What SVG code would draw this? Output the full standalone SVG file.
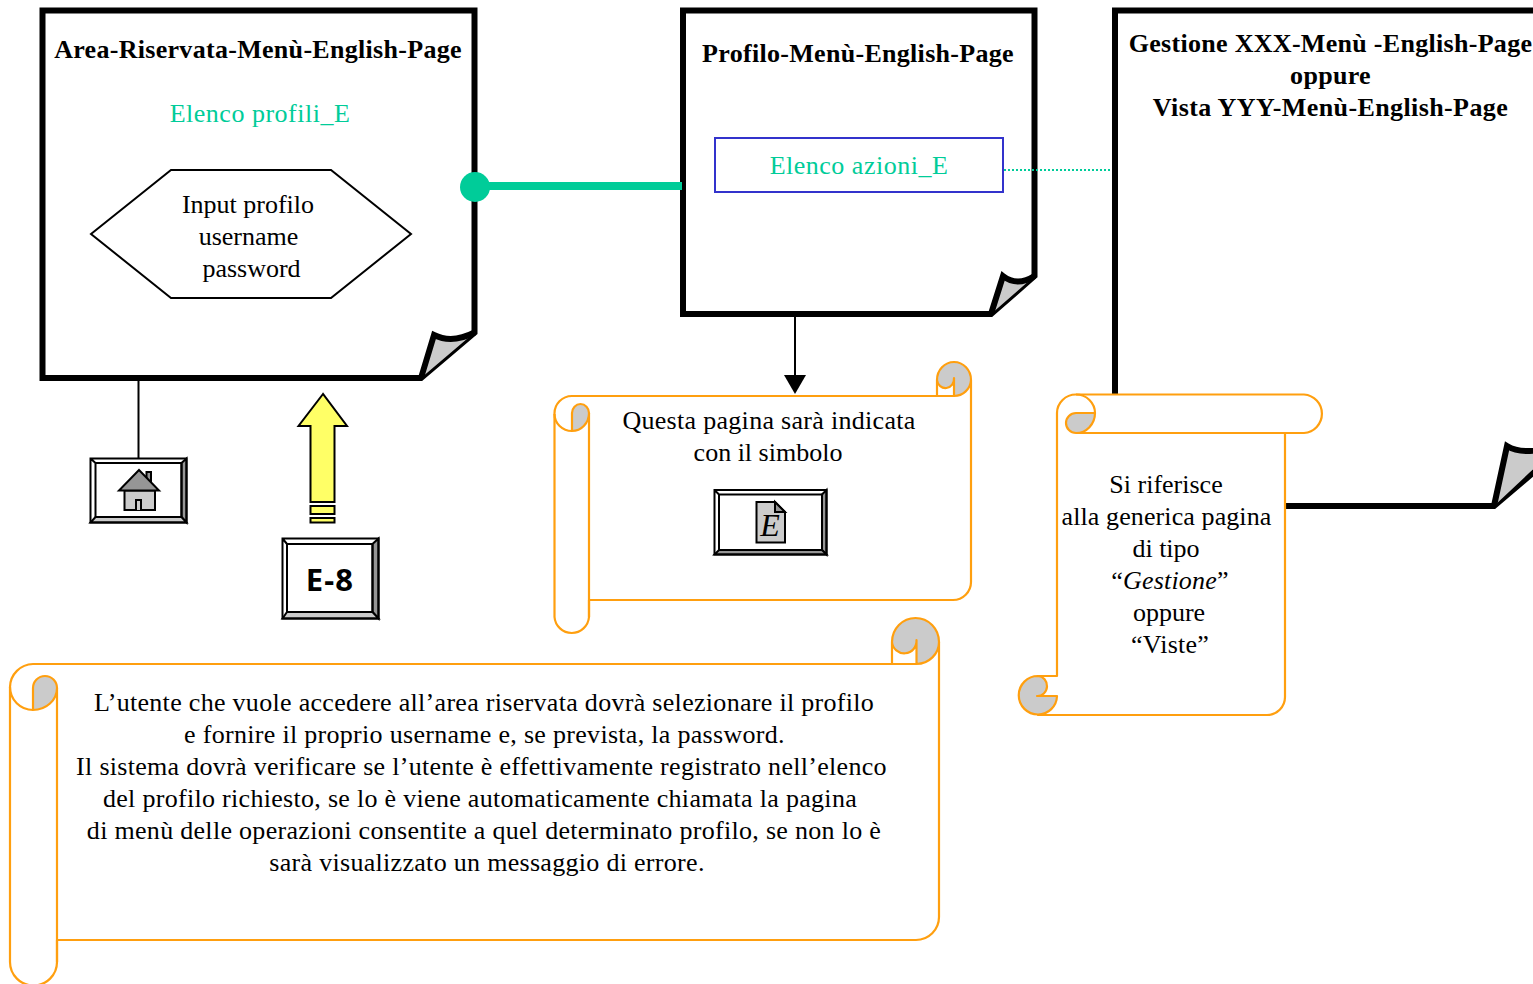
<svg xmlns="http://www.w3.org/2000/svg" width="1533" height="984" viewBox="0 0 1533 984">
<defs><style>
text{font-family:"Liberation Serif","Times New Roman",serif;font-size:26px;fill:#000;text-anchor:middle}
.t{font-weight:700;letter-spacing:.3px}
.g{fill:#00cc99;letter-spacing:.5px}
.l{letter-spacing:.3px}
.p{fill:#fff;stroke:#000;stroke-width:6;stroke-miterlimit:8}
.f{fill:#cbcbcb;stroke:none}
.e{fill:none;stroke:#000;stroke-width:6;stroke-linejoin:miter;stroke-miterlimit:10}
.s{fill:#fff;stroke:#ff9f0f;stroke-width:2.2;stroke-linejoin:round}
.n{fill:none;stroke:#ff9f0f;stroke-width:2.2;stroke-linejoin:round}
.c{fill:#cbcbcb;stroke:#ff9f0f;stroke-width:2.2;stroke-linejoin:round}
.k{stroke:#000;stroke-width:2;stroke-linejoin:miter}
.i{stroke:#000;stroke-width:2}
</style></defs>

<g id="page-area-riservata">
<path class="p" d="M42.500,10.500H474.500V332.500L421,378H42.500Z"/>
<path class="f" d="M421,378L434,335Q452,344 474.500,332.500Z"/>
<path class="e" d="M421,378L434,335Q452,344 474.500,332.500"/>
<text class="t" x="258" y="58">Area-Riservata-Menù-English-Page</text>
<text class="g" x="260" y="122">Elenco profili_E</text>
</g>
<g id="input-hexagon">
<path class="k" fill="#fff" d="M91,234L171,170H331L411,234L331,298H171Z"/>
<text x="248" y="213">Input profilo</text>
<text x="248.500" y="245">username</text>
<text x="251.500" y="277">password</text>
</g>

<g id="page-profilo">
<path class="p" d="M683,10.500H1034.500V276L991,314H683Z"/>
<path class="f" d="M991,314L1003,276Q1017,287 1034.500,276Z"/>
<path class="e" d="M991,314L1003,276Q1017,287 1034.500,276"/>
<text class="t" x="858" y="62">Profilo-Menù-English-Page</text>
</g>
<g id="elenco-azioni">
<rect x="715" y="138" width="288" height="54" fill="#fff" stroke="#3333cc" stroke-width="2"/>
<text class="g" x="859" y="174">Elenco azioni_E</text>
</g>

<g id="page-gestione">
<path class="p" d="M1115,10.500H1560V450L1494,506H1115Z"/>
<path class="f" d="M1494,506L1507,446Q1525,457 1560,444Z"/>
<path class="e" d="M1494,506L1507,446Q1525,457 1560,444"/>
<text class="t" x="1330.500" y="52">Gestione XXX-Menù -English-Page</text>
<text class="t" x="1330.500" y="84">oppure</text>
<text class="t" x="1330.500" y="116" style="letter-spacing:.4px">Vista YYY-Menù-English-Page</text>
</g>

<g id="connectors">
<path d="M475,186H682" fill="none" stroke="#00cc99" stroke-width="8"/>
<circle cx="475" cy="187" r="15" fill="#00cc99"/>
<path d="M1004,170H1112" fill="none" stroke="#00cc99" stroke-width="2" stroke-dasharray="2 2"/>
<path class="i" d="M138.500,380V458"/>
<path class="i" d="M795,316V376"/>
<path d="M784,375H806L795,394Z" fill="#000"/>
</g>

<g id="home-button">
<rect x="90.500" y="458.500" width="96" height="64" fill="#fff"/>
<path class="k" fill="#969696" d="M186.500,458.500L181.500,463V517L186.500,522.500Z"/>
<path class="k" fill="#cbcbcb" d="M90.500,522.500L95.500,517H181.500L186.500,522.500Z"/>
<path class="k" fill="none" d="M90.500,458.500H186.500V522.500H90.500ZM95.500,463H181.500V517H95.500ZM90.500,458.500L95.500,463"/>
<path class="k" fill="#969696" d="M146.500,482V472H151V486Z"/>
<path class="k" fill="#cbcbcb" d="M124.500,490.500H155V510H124.500Z"/>
<path class="k" fill="#969696" d="M139,470L119,490.500H159Z"/>
<path class="k" fill="#cbcbcb" d="M136,510V500H141V510"/>
</g>

<g id="yellow-arrow">
<path class="k" fill="#ffff66" d="M323,394L298.500,426H310.500V502H334.500V426H347Z"/>
<rect class="k" fill="#ffff66" x="310.500" y="506" width="24" height="8"/>
<rect class="k" fill="#ffff66" x="310.500" y="518" width="24" height="4.500"/>
</g>

<g id="e8-button">
<rect x="282.500" y="538.500" width="96" height="80" fill="#fff"/>
<path class="k" fill="#969696" d="M378.500,538.500L372.500,544V612L378.500,618.500Z"/>
<path class="k" fill="#cbcbcb" d="M282.500,618.500L287,612H372.500L378.500,618.500Z"/>
<path class="k" fill="none" d="M282.500,538.500H378.500V618.500H282.500ZM287,544H372.500V612H287ZM282.500,538.500L287,544"/>
<text x="330" y="591" style="font-family:'Noto Sans','Open Sans',sans-serif;font-weight:700;font-size:31px;letter-spacing:1.2px">E-8</text>
</g>

<g id="scroll-pagina">
<path class="s" d="M589,600H953A18,18 0 0 0 971,582V380H937V396H572A17.500,17.500 0 0 0 554.500,414V617A17.300,17.300 0 0 0 589,617Z"/>
<path class="n" d="M589,413V617M937,396H954M554.500,414A17.500,17 0 0 0 572,431"/>
<path class="c" d="M937,380A17,18 0 0 1 971,380A17,17 0 0 1 954,396V378A8.500,9 0 0 1 937,380Z"/>
<path class="c" d="M572,431V413A8.500,9 0 0 1 589,413A17,18 0 0 1 572,431Z"/>
<text class="l" x="769" y="429">Questa pagina sarà indicata</text>
<text x="768" y="461">con il simbolo</text>
</g>
<g id="doc-button">
<rect x="714.500" y="490" width="112" height="64.500" fill="#fff"/>
<path class="k" fill="#969696" d="M826.500,490L822,494.500V550L826.500,554.500Z"/>
<path class="k" fill="#969696" d="M714.500,554.500L719,550H822L826.500,554.500Z"/>
<path class="k" fill="none" d="M714.500,490H826.500V554.500H714.500ZM719,494.500H822V550H719ZM714.500,490L719,494.500"/>
<path class="k" fill="#cbcbcb" d="M756.500,502H775L785,512V542.500H756.500Z"/>
<path class="k" fill="#969696" d="M775,502V512H785Z"/>
<text x="770" y="536" style="font-style:italic;font-size:32px">E</text>
</g>

<g id="scroll-utente">
<path class="s" d="M57,940H916A23,23 0 0 0 939,917V642H892V664H33A23.500,23.500 0 0 0 10,687V962A23.500,23.500 0 0 0 57,962Z"/>
<path class="n" d="M57,688V962M892,664H917M10,687A23,23 0 0 0 33,710"/>
<path class="c" d="M892,642A23.500,24 0 0 1 939,642A23,22 0 0 1 916.500,664V640A12,12 0 0 1 892,642Z"/>
<path class="c" d="M33,710V688A12,12 0 0 1 57,688A24,22 0 0 1 33,710Z"/>
<text class="l" x="484" y="711">L’utente che vuole accedere all’area riservata dovrà selezionare il profilo</text>
<text class="l" x="484.500" y="743">e fornire il proprio username e, se prevista, la password.</text>
<text class="l" x="481.500" y="775">Il sistema dovrà verificare se l’utente è effettivamente registrato nell’elenco</text>
<text class="l" x="480" y="807">del profilo richiesto, se lo è viene automaticamente chiamata la pagina</text>
<text class="l" x="484" y="839">di menù delle operazioni consentite a quel determinato profilo, se non lo è</text>
<text class="l" x="487" y="871">sarà visualizzato un messaggio di errore.</text>
</g>

<g id="scroll-gestione">
<path class="s" d="M1076,394.500H1304A19.300,19.300 0 0 1 1304,433H1285V697A18,18 0 0 1 1267,715H1038V676H1057V413A19,18.500 0 0 1 1076,394.500Z"/>
<path class="n" d="M1076,394.500A19,18.500 0 0 1 1095,413M1076,433H1304"/>
<path class="c" d="M1095,413H1076A10,10 0 0 0 1076,433A19,20 0 0 0 1095,413Z"/>
<path class="c" d="M1038,676A19,19 0 0 0 1038,714.500A19,19 0 0 0 1057,696H1037A9.500,10 0 0 0 1038,676Z"/>
<text x="1166" y="493">Si riferisce</text>
<text x="1166.500" y="525" style="letter-spacing:.1px">alla generica pagina</text>
<text x="1166" y="557">di tipo</text>
<text x="1170" y="589" style="letter-spacing:.2px">“<tspan font-style="italic">Gestione</tspan>”</text>
<text x="1169" y="621">oppure</text>
<text x="1170" y="653" style="letter-spacing:.2px">“Viste”</text>
</g>
</svg>
